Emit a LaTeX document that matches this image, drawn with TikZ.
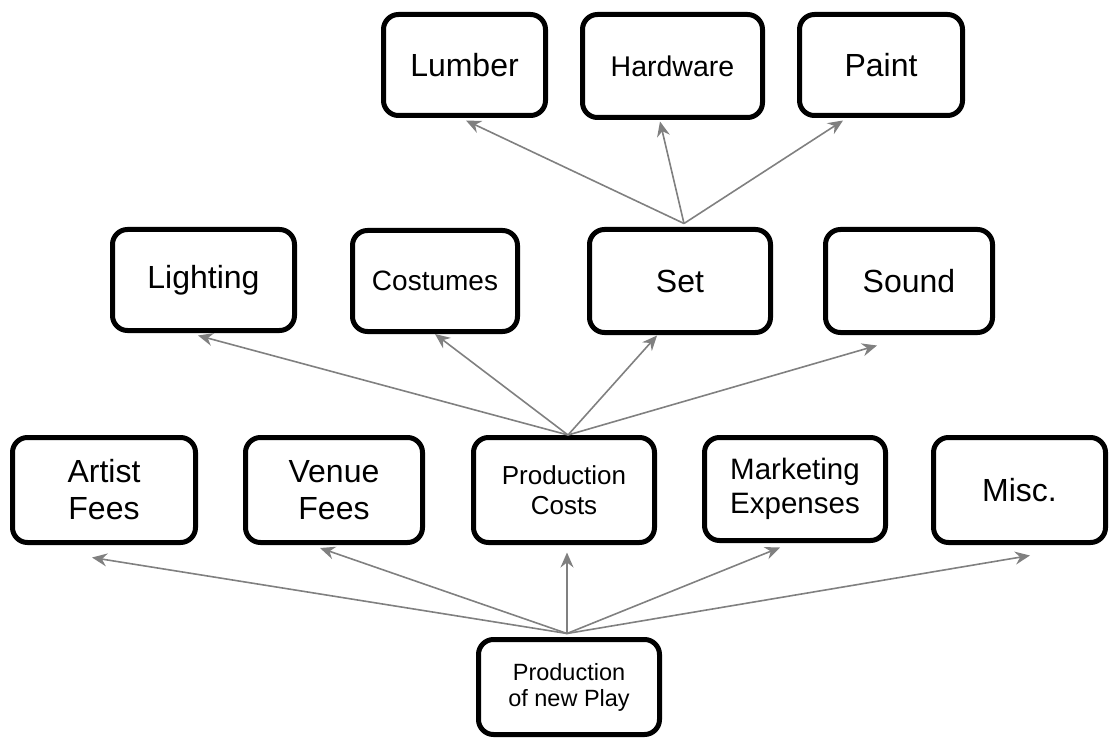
\documentclass[tikz,border=0pt]{standalone}
\usepackage{fontspec}
\setmainfont{Liberation Sans}
\usetikzlibrary{arrows.meta}

\begin{document}
\begin{tikzpicture}[x=1pt, y=1pt]
\tikzset{every node/.style={draw, line width=5pt, rounded corners=15pt, align=center, inner sep=0pt, font=\fontsize{32}{37}\selectfont}}
\tikzset{link/.style={draw=gray, line width=1.6pt, -{Stealth[length=15pt, width=13pt, inset=5pt]}}}
\useasboundingbox (0, 0) rectangle (1110, 740);

% Nodes for materials
\node[minimum width=162pt, minimum height=101pt] at (464.5, 675) (lumber) {Lumber};
\node[minimum width=180pt, minimum height=103pt, font=\fontsize{28.5}{33}\selectfont] at (672.5, 674) (hardware) {Hardware};
\node[minimum width=163pt, minimum height=101pt] at (881, 675) (paint) {Paint};

% Nodes for production costs
\node[minimum width=182pt, minimum height=101pt] at (203.5, 460) (lighting) {Lighting};
\node[minimum width=165pt, minimum height=101pt, font=\fontsize{28}{33}\selectfont] at (435, 459) (costumes) {Costumes};
\node[minimum width=181pt, minimum height=103pt] at (680, 459) (set) {Set};
\node[minimum width=167pt, minimum height=103pt] at (909, 459) (sound) {Sound};

% Nodes for expenses
\node[minimum width=183pt, minimum height=105pt] at (104, 250) (artist) {Artist\\Fees};
\node[minimum width=177pt, minimum height=105pt] at (334, 250) (venue) {Venue\\Fees};
\node[minimum width=181pt, minimum height=105pt, font=\fontsize{26}{30}\selectfont] at (564, 250) (prodcosts) {Production\\Costs};
\node[minimum width=181pt, minimum height=103pt, font=\fontsize{29.5}{34}\selectfont] at (795, 251) (marketing) {Marketing\\Expenses};
\node[minimum width=172pt, minimum height=105pt] at (1019.5, 250) (misc) {Misc.};

% Node for the play
\node[minimum width=181pt, minimum height=95pt, font=\fontsize{23.5}{26}\selectfont] at (569, 53) (play) {Production\\of new Play};

% Lines for expenses
\draw[link] ([shift={(-2, 3.5)}]play.north) -- ([shift={(-12, -12.5)}]artist.south);
\draw[link] ([shift={(-2, 3.5)}]play.north) -- ([shift={(-14, -3)}]venue.south);
\draw[link] ([shift={(-2, 3.5)}]play.north) -- ([shift={(3, -7.5)}]prodcosts.south);
\draw[link] ([shift={(-2, 3.5)}]play.north) -- ([shift={(-15, -4.5)}]marketing.south);
\draw[link] ([shift={(-2, 3.5)}]play.north) -- ([shift={(10.5, -10.5)}]misc.south);

% Lines for production costs
\draw[link] ([shift={(4, 0)}]prodcosts.north) -- ([shift={(-5.5, -2.5)}]lighting.south);
\draw[link] ([shift={(4, 0)}]prodcosts.north) -- ([shift={(0, 0)}]costumes.south);
\draw[link] ([shift={(4, 0)}]prodcosts.north) -- ([shift={(-23, -0.5)}]set.south);
\draw[link] ([shift={(4, 0)}]prodcosts.north) -- ([shift={(-32, -10.5)}]sound.south);

% Lines for materials
\draw[link] ([shift={(4, 3.5)}]set.north) -- ([shift={(1.5, -2.5)}]lumber.south);
\draw[link] ([shift={(4, 3.5)}]set.north) -- ([shift={(-12.5, -1.5)}]hardware.south);
\draw[link] ([shift={(4, 3.5)}]set.north) -- ([shift={(-38, -2.5)}]paint.south);
\end{tikzpicture}
\end{document}
